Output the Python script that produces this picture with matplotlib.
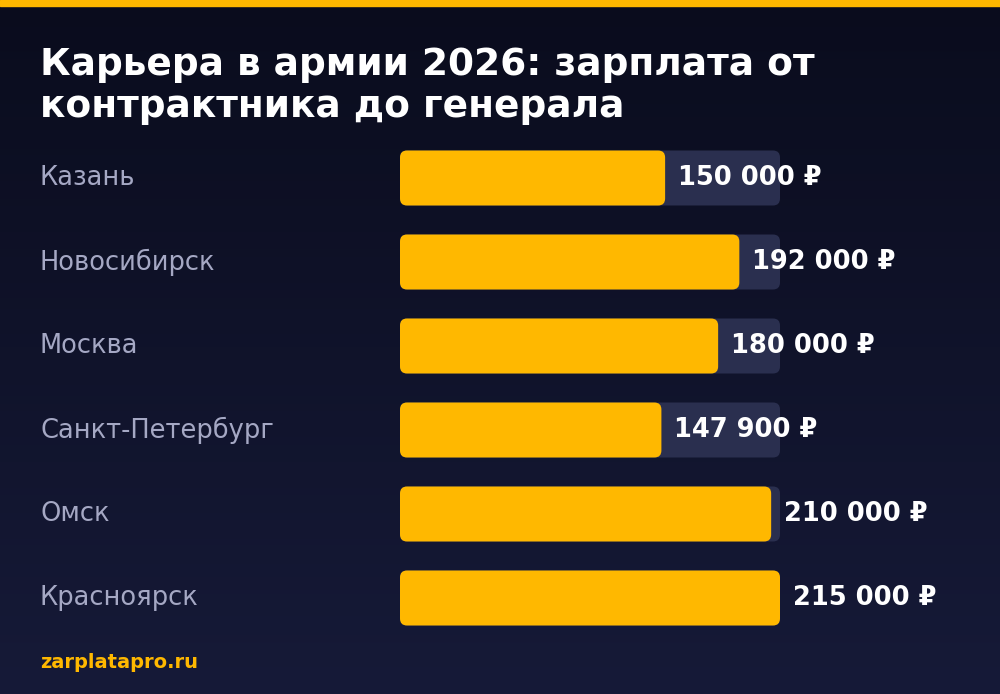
import numpy as np
import matplotlib.pyplot as plt
from matplotlib.patches import FancyBboxPatch, Rectangle

cities = ["Казань", "Новосибирск", "Москва", "Санкт-Петербург", "Омск", "Красноярск"]
salaries = [150000, 192000, 180000, 147900, 210000, 215000]
value_labels = ["150 000 ₽", "192 000 ₽", "180 000 ₽", "147 900 ₽", "210 000 ₽", "215 000 ₽"]
title = "Карьера в армии 2026: зарплата от\nконтрактника до генерала"
source = "zarplatapro.ru"

fig = plt.figure(figsize=(10, 6.94), dpi=100)
ax = fig.add_axes([0, 0, 1, 1])
ax.set_xlim(0, 1000)
ax.set_ylim(694, 0)
ax.axis("off")

# background gradient
grad = np.linspace(0, 1, 256).reshape(-1, 1)
ax.imshow(grad, extent=[0, 1000, 694, 0], aspect="auto", zorder=0,
          cmap=plt.matplotlib.colors.LinearSegmentedColormap.from_list("bg", ["#0a0c1d", "#161a38"]))
ax.add_patch(Rectangle((0, 0), 1000, 6, color="#ffb800", zorder=1))

ax.text(40, 86, title, color="white", fontsize=27, fontweight="bold",
        va="center", ha="left", linespacing=1.2, zorder=3)

x0, track_w, bar_h = 400, 380, 55
vmax = max(salaries)
for i, (city, val, lab) in enumerate(zip(cities, salaries, value_labels)):
    yc = 178 + i * 84
    ax.text(40, yc, city, color="#a5a8c4", fontsize=18.5, va="center", ha="left", zorder=3)
    ax.add_patch(FancyBboxPatch((x0, yc - bar_h / 2), track_w, bar_h,
                                boxstyle="round,pad=0,rounding_size=7",
                                fc="#2a2f4f", ec="none", zorder=2))
    w = val / vmax * track_w
    ax.add_patch(FancyBboxPatch((x0, yc - bar_h / 2), w, bar_h,
                                boxstyle="round,pad=0,rounding_size=7",
                                fc="#ffb800", ec="none", zorder=3))
    ax.text(x0 + w + 13, yc, lab, color="white", fontsize=18.5, fontweight="bold",
            va="center", ha="left", zorder=4)

ax.text(40, 662, source, color="#ffb800", fontsize=14, fontweight="bold",
        va="center", ha="left", zorder=3)

fig.savefig("out.png", dpi=100)
